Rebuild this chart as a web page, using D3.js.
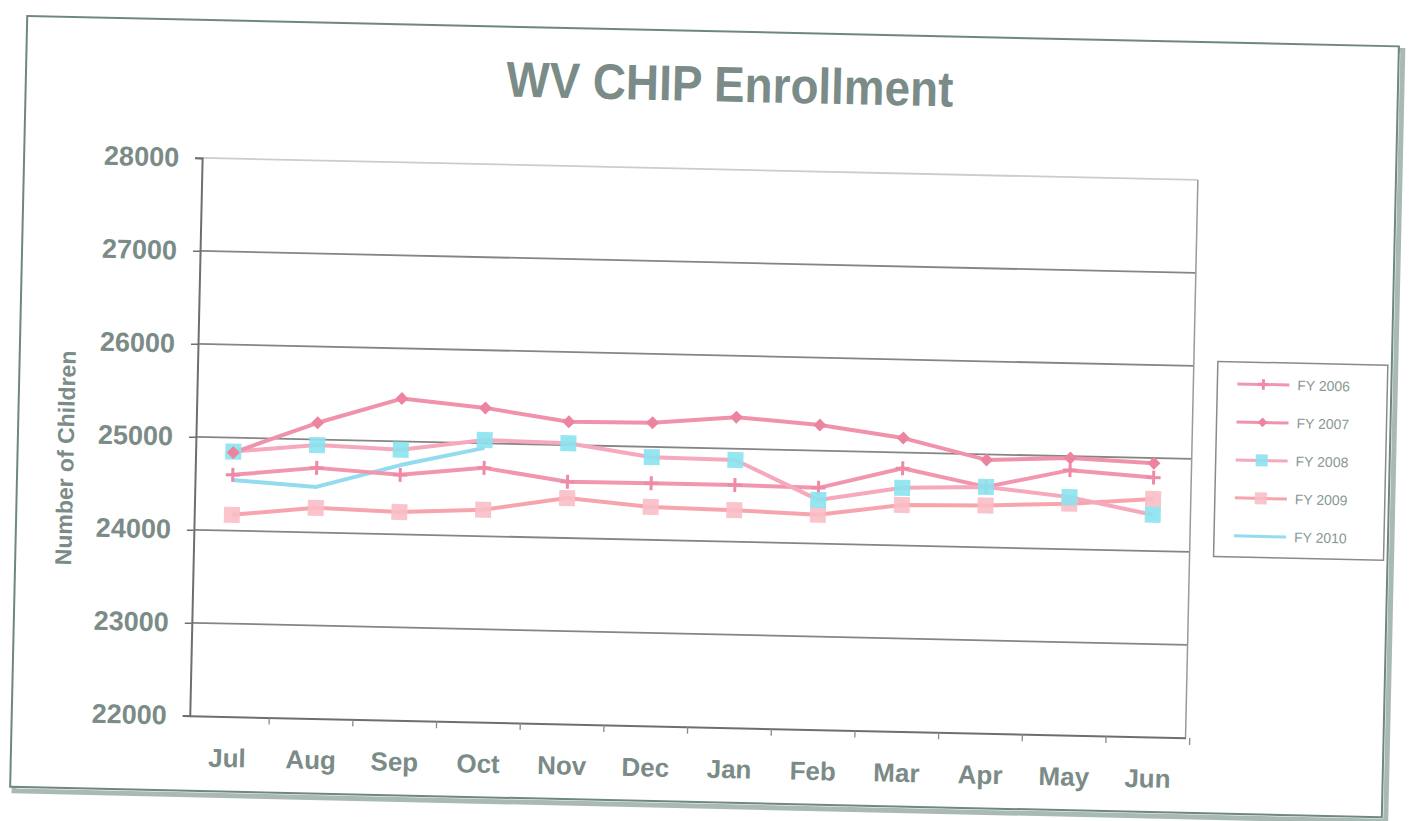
<!DOCTYPE html>
<html>
<head>
<meta charset="utf-8">
<script src="https://cdn.jsdelivr.net/npm/d3@7"></script>
<style>
  html, body { margin: 0; padding: 0; background: #ffffff; }
  svg { display: block; }
</style>
</head>
<body>
<script>
// ---- data ----
const months = ["Jul", "Aug", "Sep", "Oct", "Nov", "Dec", "Jan", "Feb", "Mar", "Apr", "May", "Jun"];
const seriesNames = ["FY 2006", "FY 2007", "FY 2008", "FY 2009", "FY 2010"];
const fy2006 = [24600, 24695, 24640, 24735, 24605, 24610, 24610, 24600, 24830, 24650, 24850, 24790];
const fy2007 = [24840, 25180, 25460, 25380, 25250, 25260, 25340, 25275, 25155, 24940, 24980, 24945];
const fy2008 = [24850, 24940, 24910, 25035, 25020, 24890, 24880, 24470, 24620, 24650, 24560, 24390];
const fy2009 = [24170, 24265, 24240, 24285, 24430, 24355, 24340, 24310, 24435, 24450, 24490, 24560];
const fy2010 = [24545, 24490, 24745, 24950];
const yTicks = [22000, 23000, 24000, 25000, 26000, 27000, 28000];
const titleText = "WV CHIP Enrollment";
const yAxisTitle = "Number of Children";

// ---- styles ----
const textColor = "#7b8b87";
const styles = [
  { line: "#f296b0", marker: "plus",    mfill: "#ee8aa6", msize: 14 },
  { line: "#f092ab", marker: "diamond", mfill: "#ec839f", msize: 13 },
  { line: "#f6a8bd", marker: "square",  mfill: "#8ae3f0", msize: 16 },
  { line: "#f7a5ad", marker: "square",  mfill: "#f9bec6", msize: 16 },
  { line: "#93dcf0", marker: "none",    mfill: "#93dcf0", msize: 0 }
];
const seriesData = [fy2006, fy2007, fy2008, fy2009, fy2010];

(function () {
const W = 1417, H = 821;
const svg = d3.select("body").append("svg").attr("width", W).attr("height", H);
const root = svg.append("g").attr("transform", "rotate(1.27,700,440)");

// outer chart border with shadow
root.append("rect").attr("x", 22).attr("y", 35).attr("width", 1372).attr("height", 771)
  .attr("fill", "none").attr("stroke", "#a9bab5").attr("stroke-width", 5);
root.append("rect").attr("x", 18).attr("y", 31).attr("width", 1372).attr("height", 771)
  .attr("fill", "#ffffff").attr("stroke", "#6f8783").attr("stroke-width", 2);

// title
root.append("text").attr("x", 722).attr("y", 101).attr("text-anchor", "middle")
  .attr("font-family", "Liberation Sans, Arial, sans-serif").attr("font-weight", "bold")
  .attr("font-size", 50).attr("fill", textColor)
  .attr("textLength", 447).attr("lengthAdjust", "spacingAndGlyphs")
  .text(titleText);

// scales
const pLeft = 196, pRight = 1192, pTop = 169, pBottom = 727;
const x = d3.scalePoint().domain(months).range([pLeft, pRight]).padding(0.45);
const y = d3.scaleLinear().domain([22000, 28000]).range([pBottom, pTop]);
const step = x.step();

// gridlines
root.append("g").selectAll("line").data(yTicks.filter(d => d > 22000)).join("line")
  .attr("x1", pLeft).attr("x2", pRight).attr("y1", d => y(d)).attr("y2", d => y(d))
  .attr("stroke", d => d === 28000 ? "#cccccc" : "#858585").attr("stroke-width", 1.8);

// right plot border
root.append("line").attr("x1", pRight).attr("x2", pRight).attr("y1", pTop).attr("y2", pBottom)
  .attr("stroke", "#9a9a9a").attr("stroke-width", 1.5);

// y axis
const yAxis = d3.axisLeft(y).tickValues(yTicks).tickSize(7).tickPadding(16).tickFormat(d3.format("d"));
const gy = root.append("g").attr("transform", `translate(${pLeft},0)`).call(yAxis);
gy.select(".domain").attr("stroke", "#6e6e6e").attr("stroke-width", 2);
gy.selectAll(".tick line").attr("stroke", "#6e6e6e").attr("stroke-width", 1.5);
gy.selectAll(".tick text").attr("fill", textColor).attr("font-size", 27)
  .attr("font-weight", "bold").attr("font-family", "Liberation Sans, Arial, sans-serif");

// x axis
const xAxis = d3.axisBottom(x).tickSize(0).tickPadding(32);
const gx = root.append("g").attr("transform", `translate(0,${pBottom})`).call(xAxis);
gx.select(".domain").attr("stroke", "#6e6e6e").attr("stroke-width", 2);
gx.selectAll(".tick text").attr("fill", textColor).attr("font-size", 26)
  .attr("font-weight", "bold").attr("font-family", "Liberation Sans, Arial, sans-serif");
// category boundary tick marks
root.append("g").selectAll("line").data(months).join("line")
  .attr("x1", d => x(d) + step / 2).attr("x2", d => x(d) + step / 2)
  .attr("y1", pBottom).attr("y2", pBottom + 7)
  .attr("stroke", "#8a8a8a").attr("stroke-width", 1.3);

// y axis title
root.append("text").attr("transform", "translate(74,472) rotate(-90)")
  .attr("text-anchor", "middle").attr("font-family", "Liberation Sans, Arial, sans-serif")
  .attr("font-weight", "bold").attr("font-size", 23).attr("fill", textColor)
  .text(yAxisTitle);

// markers
function drawMarker(g, type, cx, cy, s, fill) {
  if (type === "square") {
    g.append("rect").attr("x", cx - s / 2).attr("y", cy - s / 2).attr("width", s).attr("height", s)
      .attr("fill", fill).attr("opacity", 0.9);
  } else if (type === "diamond") {
    g.append("path").attr("d", `M${cx},${cy - s / 2}L${cx + s / 2},${cy}L${cx},${cy + s / 2}L${cx - s / 2},${cy}Z`)
      .attr("fill", fill);
  } else if (type === "plus") {
    g.append("path").attr("d", `M${cx - s / 2},${cy}H${cx + s / 2}M${cx},${cy - s / 2}V${cy + s / 2}`)
      .attr("stroke", fill).attr("stroke-width", 3);
  }
}

const line = d3.line().x((d, i) => x(months[i])).y(d => y(d));
const order = [4, 0, 3, 2, 1];
const plot = root.append("g");
order.forEach(si => {
  const st = styles[si];
  plot.append("path").datum(seriesData[si]).attr("d", line)
    .attr("fill", "none").attr("stroke", st.line).attr("stroke-width", 4)
    .attr("stroke-linejoin", "round");
});
order.forEach(si => {
  const st = styles[si];
  const mg = plot.append("g");
  seriesData[si].forEach((v, i) => drawMarker(mg, st.marker, x(months[i]), y(v), st.msize, st.mfill));
});

// legend
const lg = root.append("g").attr("transform", "translate(1216,350)");
lg.append("rect").attr("width", 170).attr("height", 195).attr("fill", "#fff")
  .attr("stroke", "#8a8a8a").attr("stroke-width", 1.5);
seriesNames.forEach((name, i) => {
  const st = styles[i];
  const ly = 22 + i * 38;
  lg.append("line").attr("x1", 20).attr("x2", 72).attr("y1", ly).attr("y2", ly)
    .attr("stroke", st.line).attr("stroke-width", 3);
  drawMarker(lg, st.marker, 46, ly, st.msize * 0.75, st.mfill);
  lg.append("text").attr("x", 80).attr("y", ly + 5).attr("font-size", 14)
    .attr("font-family", "Liberation Sans, Arial, sans-serif").attr("fill", "#8a9894")
    .text(name);
});
})();
</script>
</body>
</html>
